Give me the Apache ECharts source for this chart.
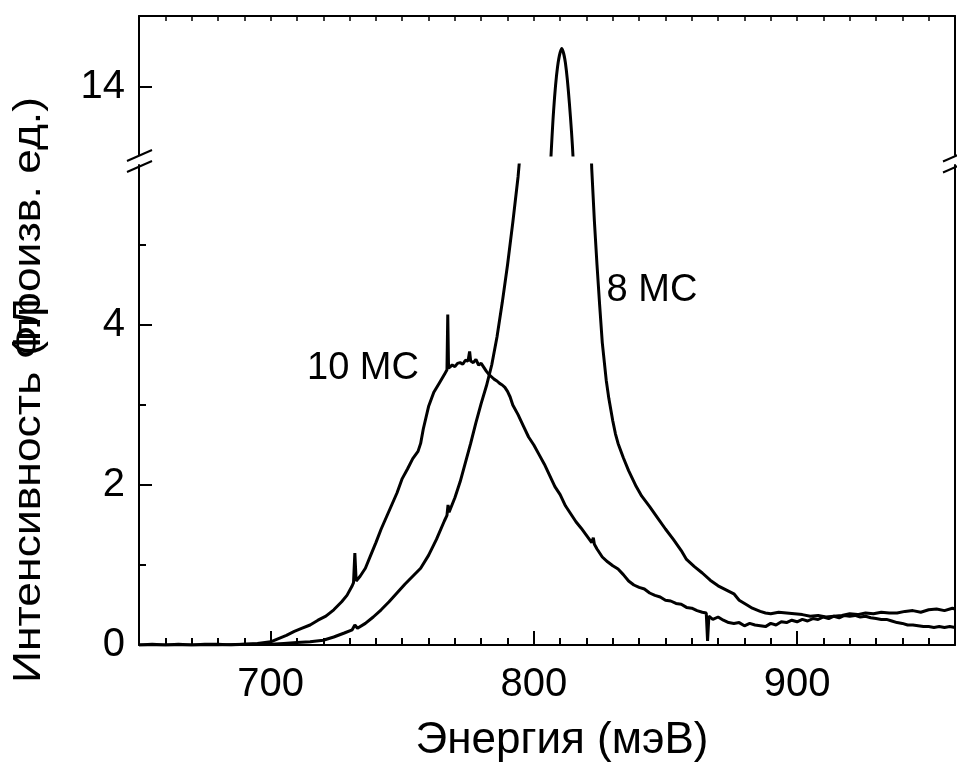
<!DOCTYPE html>
<html>
<head>
<meta charset="utf-8">
<script src="https://cdn.jsdelivr.net/npm/echarts@6/dist/echarts.min.js"></script>
<style>
html,body{margin:0;padding:0;background:#fff;}
#c{width:957px;height:767px;}
</style>
</head>
<body>
<div id="c"></div>
<script>
// ---- data ----
var xTicks = [700, 800, 900];
var yTicksLow = [0, 2, 4];
var yMinorLow = [1, 3, 5];
var yTicksHigh = [14];
var seriesNames = ['10 MC', '8 MC'];

var e10 = [650,655,660,665,670,675,680,685,690,695,700,703,706,709,712,715,718,721,724,727,729,731,731.5,732,732.5,734,736,738,740,742,744,746,748,750,752,754,756,757,758,760,762,764,766,767,767.3,767.6,768,769,770,771,772,773,774,775,775.6,776,777,778,779,780,781,782,783,784,785,786,787,788,789,790,791,792,794,796,798,800,802,804,806,808,810,812,814,816,818,820,822,822.6,823,824,826,828,830,832,834,836,838,840,842,844,846,848,850,852,854,856,858,860,862,864,865.5,866,866.5,868,870,872,874,876,878,880,882,884,886,888,890,892,894,896,898,900,902,904,906,908,910,912,914,916,918,920,922,924,926,928,930,932,934,936,938,940,942,944,946,948,950,952,954,956,958,960];
var i10 = [0.00,0.01,0.00,0.01,0.00,0.01,0.01,0.00,0.01,0.02,0.04,0.08,0.12,0.17,0.21,0.25,0.31,0.36,0.44,0.54,0.62,0.74,0.78,1.15,0.80,0.86,0.96,1.12,1.28,1.45,1.60,1.75,1.90,2.08,2.20,2.33,2.42,2.52,2.70,2.98,3.16,3.27,3.38,3.44,4.13,3.46,3.47,3.50,3.48,3.52,3.53,3.51,3.56,3.55,3.67,3.55,3.53,3.57,3.50,3.52,3.47,3.42,3.38,3.35,3.32,3.30,3.27,3.25,3.22,3.17,3.10,3.00,2.88,2.74,2.60,2.50,2.38,2.26,2.12,1.98,1.88,1.74,1.64,1.54,1.46,1.37,1.28,1.34,1.26,1.20,1.10,1.04,0.99,0.95,0.88,0.80,0.75,0.72,0.70,0.65,0.62,0.60,0.56,0.55,0.52,0.51,0.47,0.46,0.43,0.41,0.40,0.05,0.36,0.32,0.35,0.31,0.28,0.27,0.28,0.24,0.27,0.25,0.24,0.23,0.27,0.25,0.29,0.28,0.31,0.29,0.32,0.30,0.33,0.32,0.35,0.33,0.36,0.34,0.37,0.36,0.37,0.35,0.36,0.34,0.33,0.32,0.32,0.30,0.28,0.27,0.25,0.25,0.24,0.23,0.23,0.22,0.23,0.22,0.23,0.22];

var e8 = [650,660,670,680,690,700,705,710,715,720,724,728,731,732,733,736,739,742,745,748,751,754,757,760,763,766,767,767.4,767.8,770,772,774,776,778,780,782,784,786,788,790,792,794,796,798,800,802,804,806,807.5,809,810.6,812,813.5,815,817,819,821,822,823,824,825,826,827.5,828.5,830,831,832,834,836,838.9,841,844,847,850,853,856,858,861,864,867,870,873,876,878,881,883,886,888,890,893,896,899,902,905,908,911,914,917,920,923,926,929,932,935,938,941,944,947,950,953,956,959,960];
var i8 = [0.00,0.00,0.00,0.00,0.01,0.01,0.02,0.03,0.04,0.06,0.10,0.15,0.19,0.25,0.21,0.27,0.35,0.44,0.54,0.65,0.76,0.86,0.96,1.12,1.32,1.55,1.62,1.75,1.66,1.84,2.04,2.28,2.52,2.78,3.02,3.24,3.50,3.85,4.28,4.75,5.28,5.85,6.6,7.6,8.8,10.0,11.4,12.8,13.7,14.25,14.48,14.3,13.8,13.05,11.2,9.0,6.9,5.95,5.3,4.75,4.25,3.78,3.31,3.08,2.80,2.64,2.52,2.34,2.18,1.98,1.86,1.73,1.59,1.45,1.32,1.18,1.07,0.98,0.90,0.81,0.74,0.69,0.64,0.56,0.50,0.46,0.42,0.40,0.39,0.41,0.40,0.39,0.38,0.36,0.37,0.35,0.36,0.37,0.39,0.38,0.40,0.39,0.41,0.40,0.40,0.42,0.43,0.41,0.44,0.45,0.43,0.46,0.45];

function pairs(xs, ys){ return xs.map(function(x, k){ return [x, ys[k]]; }); }

var FONT = 'Liberation Sans';
var chart = echarts.init(document.getElementById('c'), null, {renderer:'canvas'});

var axLine = {show:true, lineStyle:{color:'#000', width:2}};
var noLine = {show:false};
var curve = {color:'#000', width:3};

var option = {
  backgroundColor:'#fff',
  animation:false,
  grid:[
    {left:139, right:2, top:165, bottom:122, containLabel:false},
    {left:139, right:2, top:16, height:139, containLabel:false}
  ],
  xAxis:[
    {gridIndex:0, type:'value', min:650, max:960, position:'bottom',
     axisLine:axLine,
     axisTick:{show:true, inside:true, length:14, customValues:xTicks, lineStyle:{color:'#000', width:2}},
     axisLabel:{show:true, customValues:xTicks, margin:20, color:'#000', fontSize:40, fontFamily:FONT},
     splitLine:{show:false}},
    {gridIndex:0, type:'value', min:650, max:960, interval:10, position:'bottom',
     axisLine:noLine,
     axisTick:{show:true, inside:true, length:7, lineStyle:{color:'#000', width:2}},
     axisLabel:{show:false}, splitLine:{show:false}},
    {gridIndex:1, type:'value', min:650, max:960, interval:10, position:'top',
     axisLine:axLine,
     axisTick:{show:true, inside:true, length:5, lineStyle:{color:'#000', width:1.5}},
     axisLabel:{show:false}, splitLine:{show:false}}
  ],
  yAxis:[
    {gridIndex:0, type:'value', min:0, max:6, position:'left',
     axisLine:axLine,
     axisTick:{show:true, inside:true, length:13, customValues:yTicksLow, lineStyle:{color:'#000', width:2}},
     axisLabel:{show:true, customValues:yTicksLow, margin:14, color:'#000', fontSize:40, fontFamily:FONT},
     splitLine:{show:false}},
    {gridIndex:0, type:'value', min:0, max:6, position:'left',
     axisLine:noLine,
     axisTick:{show:true, inside:true, length:7, customValues:yMinorLow, lineStyle:{color:'#000', width:2}},
     axisLabel:{show:false}, splitLine:{show:false}},
    {gridIndex:0, type:'value', min:0, max:6, position:'right',
     axisLine:axLine, axisTick:{show:false}, axisLabel:{show:false}, splitLine:{show:false}},
    {gridIndex:1, type:'value', min:13.15, max:14.8875, position:'left',
     axisLine:axLine,
     axisTick:{show:true, inside:true, length:13, customValues:yTicksHigh, lineStyle:{color:'#000', width:2}},
     axisLabel:{show:true, customValues:yTicksHigh, margin:14, color:'#000', fontSize:40, fontFamily:FONT},
     splitLine:{show:false}},
    {gridIndex:1, type:'value', min:13.15, max:14.8875, position:'right',
     axisLine:axLine, axisTick:{show:false}, axisLabel:{show:false}, splitLine:{show:false}}
  ],
  series:[
    {name:seriesNames[0], type:'line', xAxisIndex:0, yAxisIndex:0, data:pairs(e10, i10),
     showSymbol:false, symbol:'none', lineStyle:curve, clip:true},
    {name:seriesNames[1], type:'line', xAxisIndex:0, yAxisIndex:0, data:pairs(e8, i8),
     showSymbol:false, symbol:'none', lineStyle:curve, clip:true},
    {name:seriesNames[1], type:'line', xAxisIndex:2, yAxisIndex:3, data:pairs(e8, i8),
     showSymbol:false, symbol:'none', smooth:0.3, lineStyle:curve, clip:true}
  ],
  graphic:[
    {type:'line', shape:{x1:127, y1:161, x2:152, y2:150}, style:{stroke:'#000', lineWidth:2}},
    {type:'line', shape:{x1:127, y1:172, x2:152, y2:161}, style:{stroke:'#000', lineWidth:2}},
    {type:'line', shape:{x1:943, y1:161.5, x2:960, y2:154}, style:{stroke:'#000', lineWidth:2}},
    {type:'line', shape:{x1:943, y1:172.5, x2:960, y2:165}, style:{stroke:'#000', lineWidth:2}},
    {type:'text', x:363, y:369, style:{text:seriesNames[0], fill:'#000', font:'38px "Liberation Sans"', textAlign:'center', textVerticalAlign:'middle'}},
    {type:'text', x:652, y:291, style:{text:seriesNames[1], fill:'#000', font:'38px "Liberation Sans"', textAlign:'center', textVerticalAlign:'middle'}},
    {type:'text', x:562, y:741, style:{text:'Энергия (мэВ)', fill:'#000', font:'44px "Liberation Sans"', textAlign:'center', textVerticalAlign:'middle'}},
    {type:'text', x:30, y:683, rotation:Math.PI/2, scaleX:1.17, style:{text:'Интенсивность ФЛ', fill:'#000', font:'38px "Liberation Sans"', textAlign:'left', textVerticalAlign:'middle'}},
    {type:'text', x:30, y:97, rotation:Math.PI/2, scaleX:1.17, style:{text:'(произв. ед.)', fill:'#000', font:'38px "Liberation Sans"', textAlign:'right', textVerticalAlign:'middle'}}
  ]
};
chart.setOption(option);
</script>
</body>
</html>
